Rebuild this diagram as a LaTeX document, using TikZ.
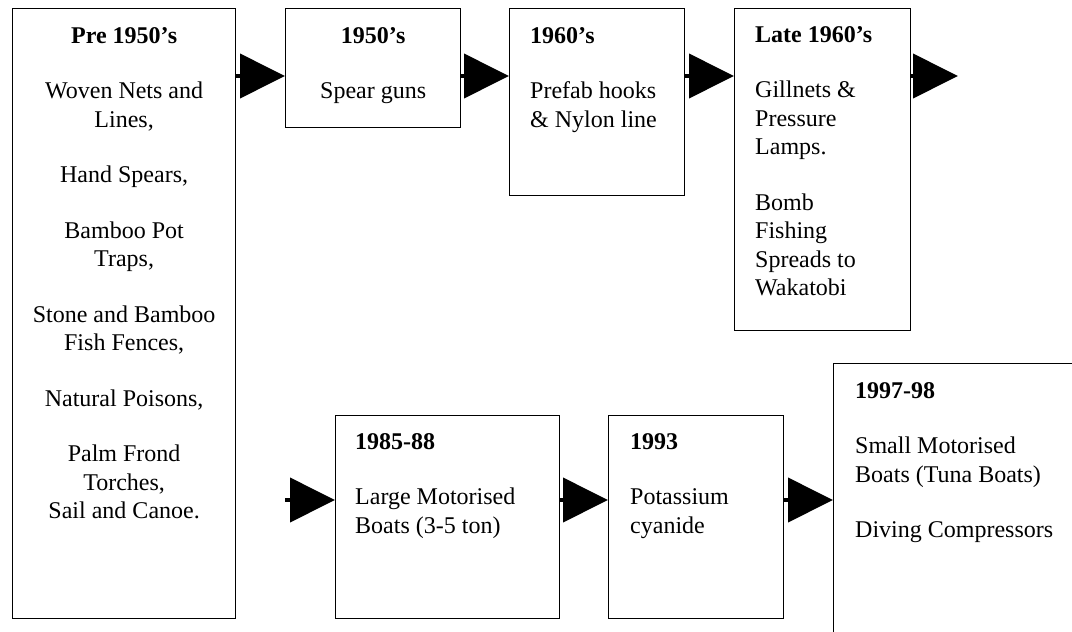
\documentclass[tikz,border=0pt]{standalone}
\usepackage{fontspec}
\setmainfont{Liberation Serif}
\usetikzlibrary{arrows.meta}
\usetikzlibrary{positioning}

\begin{document}
\begin{tikzpicture}[x=1pt, y=-1pt,
        era/.style={draw, line width=1.3pt, anchor=north west, inner sep=0pt},
        note/.style={inner sep=0pt, font=\fontsize{24}{28.5}\selectfont},
        flow/.style={line width=4pt, -{Triangle[length=45pt, width=44pt]}}]
        \clip (0,0) rectangle (1072,632);
        % the boxes, top row then bottom row
        \node[era, minimum width=223pt, minimum height=610pt] (pre50) at (12,8) {};
        \node[era, minimum width=175pt, minimum height=119pt] (s50) at (285,8) {};
        \node[era, minimum width=175pt, minimum height=187pt] (s60) at (509,8) {};
        \node[era, minimum width=176pt, minimum height=322pt] (late60) at (734,8) {};
        \node[era, minimum width=224pt, minimum height=203pt] (s85) at (335,415) {};
        \node[era, minimum width=175pt, minimum height=203pt] (s93) at (608,415) {};
        \node[era, minimum width=300pt, minimum height=320pt] (s97) at (833,363) {};

        \node[note, align=center, below=19pt of pre50.north] (pre50txt) {\textbf{Pre 1950's}\\[27pt]
            Woven Nets and\\ Lines,\\[27pt]
            Hand Spears,\\[27pt]
            Bamboo Pot\\ Traps,\\[27pt]
            Stone and Bamboo\\ Fish Fences,\\[27pt]
            Natural Poisons,\\[27pt]
            Palm Frond\\ Torches,\\ Sail and Canoe.};
        \node[note, align=center, below=19pt of s50.north] (s50txt) {\textbf{1950's}\\[27pt] Spear guns};
        \node[note, align=left, below right=19pt and 21pt of s60.north west] (s60txt) {\textbf{1960's}\\[27pt]
            Prefab hooks\\ \& Nylon line};
        \node[note, align=left, below right=18pt and 21pt of late60.north west] (late60txt) {\textbf{Late 1960's}\\[27pt]
            Gillnets \&\\ Pressure\\ Lamps.\\[27pt]
            Bomb\\ Fishing\\ Spreads to\\ Wakatobi};
        \node[note, align=left, below right=18pt and 20pt of s85.north west] (s85txt) {\textbf{1985-88}\\[27pt]
            Large Motorised\\ Boats (3-5 ton)};
        \node[note, align=left, below right=18pt and 22pt of s93.north west] (s93txt) {\textbf{1993}\\[27pt]
            Potassium\\ cyanide};
        \node[note, align=left, below right=19pt and 22pt of s97.north west] (s97txt) {\textbf{1997-98}\\[27pt]
            Small Motorised\\ Boats (Tuna Boats)\\[27pt]
            Diving Compressors};

        % arrows
        \coordinate (toprow) at (0,76);
        \coordinate (lowrow) at (0,500);
        \coordinate (outtop) at (958,76);
        \coordinate (inlow) at (285,500);
        \draw[flow] (pre50.east |- toprow) -- (s50.west |- toprow);
        \draw[flow] (s50.east |- toprow) -- (s60.west |- toprow);
        \draw[flow] (s60.east |- toprow) -- (late60.west |- toprow);
        \draw[flow] (late60.east |- toprow) -- (outtop);
        \draw[flow] (inlow) -- (s85.west |- lowrow);
        \draw[flow] (s85.east |- lowrow) -- (s93.west |- lowrow);
        \draw[flow] (s93.east |- lowrow) -- (s97.west |- lowrow);
\end{tikzpicture}
\end{document}
